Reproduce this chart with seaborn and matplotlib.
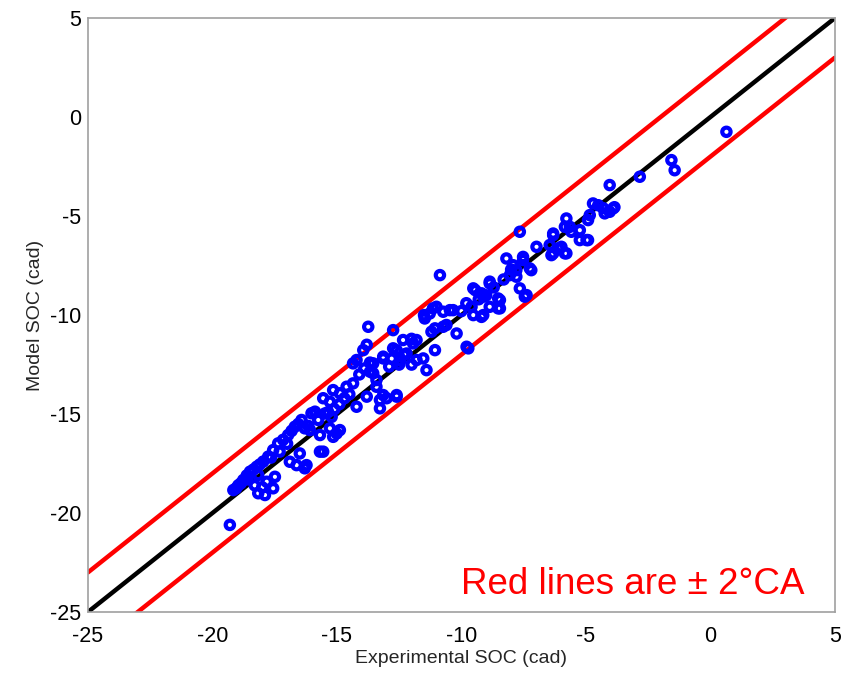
import matplotlib
matplotlib.use("Agg")
import matplotlib.pyplot as plt
import seaborn as sns
import numpy as np
import pandas as pd

# Data
experimental_soc = [
    -19.3, -19.16, -19.05, -18.96, -18.86, -18.76, -18.62, -18.49, -18.35, -18.22,
    -18.1, -17.96, -17.76, -17.56, -17.36, -17.16, -16.96, -16.82, -16.69, -16.55,
    -16.42, -16.02, -16.29, -18.16, -17.89, -17.56, -17.49, -17.82, -18.16, -18.3,
    -18.0, -16.89, -16.62, -16.29, -16.49, -15.68, -15.55, -15.28, -15.01, -15.48,
    -15.21, -14.21, -13.67, -13.14, -12.74, -13.8, -13.54, -13.41, -13.27, -13.0,
    -12.6, -13.27, -15.15, -14.88, -14.61, -14.35, -15.55, -15.28, -15.88, -15.68,
    -14.88, -15.15, -16.08, -16.22, -13.74, -12.74, -11.27, -11.0, -10.46, -10.19,
    -10.73, -11.2, -11.06, -9.79, -9.59, -12.34, -11.94, -12.6, -12.2, -11.8,
    -11.4, -13.14, -13.54, -13.67, -13.94, -13.41, -13.14, -12.6, -13.8, -14.21,
    -14.35, -10.86, -9.72, -8.19, -7.79, -7.52, -7.65, -7.38, -8.05, -9.52,
    -9.19, -8.86, -8.52, -8.45, -8.86, -9.19, -9.52, -11.14, -10.73, -10.33,
    -11.47, -11.06, -10.6, -11.8, -11.53, -7.65, -5.78, -5.64, -5.24, -4.97,
    -4.84, -6.31, -6.45, -6.11, -5.78, -6.31, -6.98, -7.92, -7.52, -7.25,
    -7.79, -7.45, -9.44, -9.12, -8.86, -8.45, -8.52, -9.12, -2.83, -4.04,
    -4.71, -3.9, -4.04, -4.24, -4.91, -5.84, -5.58, -5.24, -4.91, -6.31,
    -5.98, -6.38, -5.84, -7.19, 0.65, -1.56, -1.43, -4.5, -4.3, -3.85,
    -12.8, -12.5, -12.3, -12.0, -12.0, -11.5, -10.0, -9.8, -9.3, -9.0,
    -8.7, -8.3, -8.0, -14.5, -14.7, -14.9, -15.1, -15.35, -15.75, -16.15,
    -17.0, -17.3, -17.65, -18.6, -14.1, -13.9, -12.9, -12.45,
]
model_soc = [
    -20.6, -18.84, -18.75, -18.6, -18.5, -18.33, -18.1, -17.91, -17.8, -17.66,
    -17.55, -17.4, -17.15, -16.82, -16.48, -16.3, -16.06, -15.85, -15.64, -15.5,
    -15.3, -14.96, -15.72, -19.0, -19.09, -18.75, -18.17, -18.42, -18.08, -18.6,
    -18.7, -17.41, -17.58, -17.74, -16.99, -16.9, -16.9, -15.72, -15.98, -14.97,
    -15.14, -12.27, -12.4, -12.1, -11.68, -11.5, -12.94, -13.62, -14.29, -14.2,
    -14.04, -14.71, -13.79, -13.95, -13.62, -13.45, -14.2, -14.38, -14.88, -16.06,
    -15.81, -16.15, -15.81, -17.58, -10.59, -10.76, -9.92, -9.58, -9.75, -10.93,
    -10.59, -10.84, -11.77, -11.6, -9.58, -11.26, -11.43, -11.77, -11.94, -12.27,
    -12.78, -12.19, -12.44, -12.86, -11.77, -13.28, -14.04, -14.12, -14.12, -14.63,
    -12.44, -7.98, -11.68, -7.14, -7.73, -7.06, -8.65, -8.99, -7.98, -8.65,
    -8.9, -8.4, -9.16, -9.66, -9.58, -10.09, -10.0, -9.66, -9.83, -9.75,
    -10.17, -10.67, -10.5, -11.26, -12.19, -5.79, -5.12, -5.54, -5.71, -6.21,
    -4.95, -5.88, -6.46, -6.63, -6.88, -6.88, -6.55, -7.48, -7.22, -7.64,
    -8.06, -9.07, -8.74, -9.07, -8.31, -9.24, -9.66, -10.0, -3.01, -3.43,
    -4.36, -4.61, -4.78, -4.86, -5.2, -5.54, -5.79, -6.21, -6.21, -5.96,
    -6.55, -6.97, -6.88, -7.73, -0.74, -2.17, -2.68, -4.45, -4.6, -4.55,
    -12.2, -12.5, -12.0, -12.5, -11.2, -10.0, -9.8, -9.4, -9.2, -9.0,
    -8.6, -8.2, -7.7, -14.0, -14.2, -14.5, -14.75, -14.9, -15.3, -15.6,
    -16.5, -16.9, -17.2, -18.3, -13.0, -12.7, -12.6, -12.3,
]
axis_range = [-25, 5]
band_halfwidth = 2
ticks = [-25, -20, -15, -10, -5, 0, 5]
x_label = "Experimental SOC (cad)"
y_label = "Model SOC (cad)"
note = "Red lines are \u00b1 2\u00b0CA"

sns.set_style("white")
plt.rcParams["font.family"] = ["Liberation Sans", "DejaVu Sans"]

df = pd.DataFrame({"exp": experimental_soc, "model": model_soc})
line_x = np.array(axis_range, dtype=float)
lines = pd.DataFrame({
    "x": line_x,
    "ideal": line_x,
    "upper": line_x + band_halfwidth,
    "lower": line_x - band_halfwidth,
})

fig = plt.figure(figsize=(8.5, 6.74), dpi=100)
ax = fig.add_axes([0.1035, 0.092, 0.8785, 0.881])

sns.lineplot(data=lines, x="x", y="upper", color="#ff0000", linewidth=3.2, ax=ax)
sns.lineplot(data=lines, x="x", y="lower", color="#ff0000", linewidth=3.2, ax=ax)
sns.lineplot(data=lines, x="x", y="ideal", color="black", linewidth=3.2, ax=ax)
sns.scatterplot(data=df, x="exp", y="model", marker="o", s=36,
                facecolors="none", edgecolor="#0000ff", linewidth=3.0, ax=ax, zorder=3)

ax.set_xlim(axis_range)
ax.set_ylim(axis_range)
ax.set_xticks(ticks)
ax.set_yticks(ticks)
ax.set_xticklabels([str(t) for t in ticks])
ax.set_yticklabels([str(t) for t in ticks])
ax.tick_params(direction="in", length=7, width=1, color="#909090",
               labelsize=15.5, labelcolor="black")
ax.tick_params(axis="x", pad=10)
ax.tick_params(axis="y", pad=5)
for sp in ax.spines.values():
    sp.set_visible(True)
    sp.set_color("#a0a0a0")
    sp.set_linewidth(1.2)
ax.set_xlabel(x_label, fontsize=14, labelpad=2)
ax.set_ylabel(y_label, fontsize=14, labelpad=4)

ax.text(-10.0, -23.6, note, color="#ff0000", fontsize=26.5, ha="left", va="center",
        family=["Liberation Sans", "DejaVu Sans"])

fig.savefig("out.png", dpi=100)
